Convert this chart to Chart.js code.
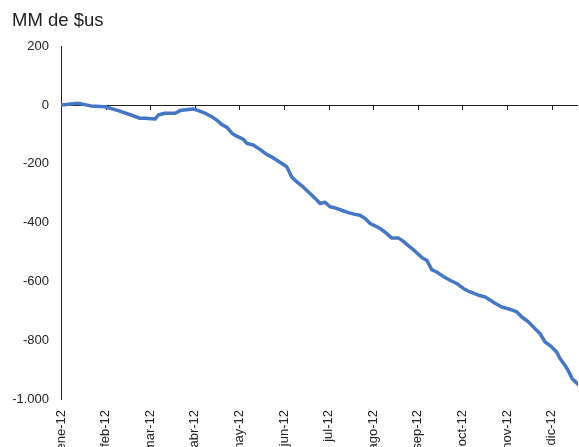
<!DOCTYPE html>
<html>
<head>
<meta charset="utf-8">
<script src="https://cdn.jsdelivr.net/npm/chart.js@4/dist/chart.umd.min.js"></script>
<style>
  html, body { margin: 0; padding: 0; background: #fff; overflow: hidden; }
  #wrap { width: 579px; height: 447px; position: relative; }
</style>
</head>
<body>
<div id="wrap"><canvas id="c" width="579" height="447"></canvas></div>
<script>
// Month tick labels (category positions 0..11 on the time axis)
const monthLabels = ['ene-12','feb-12','mar-12','abr-12','may-12','jun-12','jul-12','ago-12','sep-12','oct-12','nov-12','dic-12'];
// Position in time, expressed in months since 1 Jan 2012
const timeInMonths = [0.00,0.38,0.67,0.99,1.28,1.57,1.77,1.88,2.11,2.18,2.33,2.56,2.67,2.85,2.97,3.08,3.23,3.38,3.49,3.60,3.72,3.83,3.94,4.09,4.16,4.31,4.46,4.61,4.76,4.91,5.06,5.17,5.28,5.40,5.54,5.70,5.81,5.92,6.03,6.14,6.29,6.44,6.59,6.70,6.82,6.93,7.04,7.15,7.26,7.41,7.56,7.67,7.75,7.90,8.01,8.12,8.20,8.31,8.42,8.57,8.72,8.87,9.02,9.17,9.36,9.51,9.73,9.88,10.07,10.22,10.33,10.48,10.63,10.74,10.85,11.00,11.11,11.19,11.30,11.37,11.46,11.59];
// Cumulative value, MM de $us
const values = [0,6,-3,-6,-19,-34,-45,-45,-48,-34,-28,-28,-19,-15,-14,-19,-28,-40,-51,-66,-76,-96,-106,-117,-130,-136,-151,-168,-180,-195,-210,-244,-261,-275,-295,-318,-335,-331,-346,-350,-358,-366,-372,-375,-386,-403,-411,-420,-432,-452,-452,-463,-474,-492,-508,-522,-528,-560,-568,-583,-596,-607,-624,-636,-647,-653,-674,-687,-695,-704,-721,-738,-761,-778,-806,-823,-840,-863,-886,-903,-931,-950];
// Axis range
const yMin = -1000, yMax = 200, yStep = 200;
const xMin = 0, xMax = 11.59;

const points = timeInMonths.map((t, i) => ({ x: t, y: values[i] }));

function fmtThousands(v) {
  const s = Math.abs(v).toString().replace(/\B(?=(\d{3})+(?!\d))/g, '.');
  return (v < 0 ? '-' : '') + s;
}

const axisColor = '#1f1f1f';
const textColor = '#222';
const fontFamily = '"Liberation Sans", Arial, sans-serif';

// Draw downward tick marks on the zero line at each month (Excel-style axis crossing at 0)
const zeroAxisTicks = {
  id: 'zeroAxisTicks',
  beforeDatasetsDraw(chart) {
    const xs = chart.scales.x, ys = chart.scales.y;
    const y0 = ys.getPixelForValue(0);
    const ctx = chart.ctx;
    ctx.save();
    ctx.strokeStyle = axisColor;
    ctx.lineWidth = 1;
    ctx.beginPath();
    for (let i = 0; i < monthLabels.length; i++) {
      const px = Math.round(xs.getPixelForValue(i)) + 0.5;
      ctx.moveTo(px, y0);
      ctx.lineTo(px, y0 + 5);
    }
    ctx.stroke();
    ctx.restore();
  }
};

new Chart(document.getElementById('c'), {
  type: 'line',
  data: {
    datasets: [{
      data: points,
      borderColor: '#4677c4',
      borderWidth: 3.5,
      pointRadius: 0,
      tension: 0,
      fill: false,
      borderJoinStyle: 'round',
      borderCapStyle: 'round'
    }]
  },
  options: {
    responsive: false,
    animation: false,
    events: [],
    layout: { padding: { left: 12, right: 1, top: 0, bottom: 0 } },
    plugins: {
      legend: { display: false },
      tooltip: { enabled: false },
      title: {
        display: true,
        text: 'MM de $us',
        align: 'start',
        color: textColor,
        font: { family: fontFamily, size: 18.5, weight: 'normal' },
        padding: { top: 10, bottom: 14 }
      }
    },
    scales: {
      x: {
        type: 'linear',
        min: xMin,
        max: xMax,
        grid: { display: false },
        border: { display: false },
        ticks: {
          stepSize: 1,
          includeBounds: false,
          autoSkip: false,
          minRotation: 90,
          maxRotation: 90,
          padding: 3,
          color: textColor,
          font: { family: fontFamily, size: 13 },
          callback: (v) => (Number.isInteger(v) && monthLabels[v] !== undefined) ? monthLabels[v] : ''
        },
        afterFit: (s) => { s.height = 48; }
      },
      y: {
        min: yMin,
        max: yMax,
        grid: {
          drawTicks: false,
          color: (c) => (c.tick && c.tick.value === 0) ? axisColor : 'rgba(0,0,0,0)',
          lineWidth: 1
        },
        border: { display: true, color: axisColor, width: 1 },
        ticks: {
          stepSize: yStep,
          padding: 12,
          color: textColor,
          font: { family: fontFamily, size: 13 },
          callback: (v) => fmtThousands(v)
        },
        afterFit: (s) => { s.width = 49; }
      }
    }
  },
  plugins: [zeroAxisTicks]
});
</script>
</body>
</html>
